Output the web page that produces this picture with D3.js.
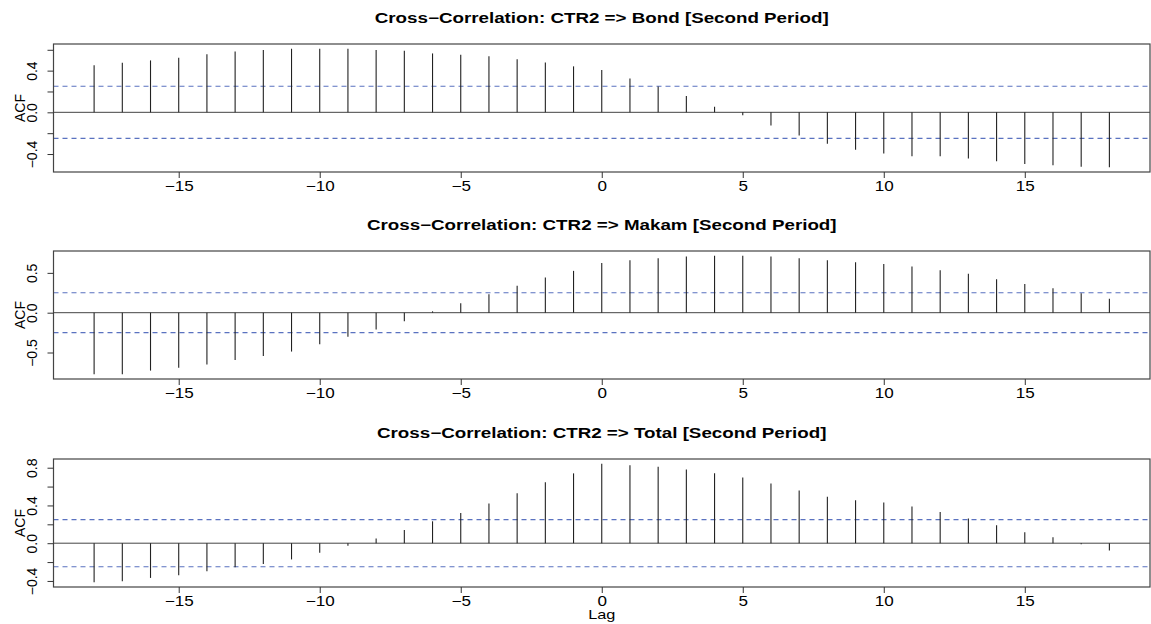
<html>
<head>
<meta charset="UTF-8">
<title>Cross-Correlation CTR2</title>
<script src="https://d3js.org/d3.v7.min.js"></script>
<style>
body { margin: 0; background: #fff; }
text { font-family: "Liberation Sans", Arial, sans-serif; fill: #000; }
</style>
</head>
<body>
<svg id="chart" width="1151" height="624"></svg>
<script>
// lags of the ccf output
var lags = [-18,-17,-16,-15,-14,-13,-12,-11,-10,-9,-8,-7,-6,-5,-4,-3,-2,-1,0,
            1,2,3,4,5,6,7,8,9,10,11,12,13,14,15,16,17,18];

// cross-correlation values
var bondAcf = [0.451,0.476,0.498,0.524,0.556,0.584,0.597,0.610,0.610,0.610,0.597,0.590,0.565,
               0.552,0.537,0.508,0.479,0.441,0.406,0.324,0.248,0.156,0.054,-0.029,-0.127,-0.222,
               -0.302,-0.359,-0.394,-0.422,-0.422,-0.444,-0.470,-0.495,-0.508,-0.521,-0.527];
var makamAcf = [-0.773,-0.773,-0.727,-0.690,-0.649,-0.595,-0.545,-0.488,-0.397,-0.302,-0.211,-0.107,0.017,
                0.120,0.231,0.339,0.442,0.525,0.624,0.657,0.682,0.707,0.715,0.715,0.707,0.682,
                0.657,0.632,0.612,0.579,0.533,0.488,0.421,0.360,0.306,0.244,0.174];
var totalAcf = [-0.414,-0.404,-0.368,-0.340,-0.298,-0.256,-0.221,-0.172,-0.102,-0.028,0.049,0.140,0.232,
                0.319,0.421,0.530,0.646,0.740,0.842,0.825,0.811,0.782,0.740,0.695,0.632,0.558,
                0.491,0.456,0.432,0.389,0.330,0.263,0.189,0.116,0.063,-0.011,-0.077];

// approx. 95% bound, 2/sqrt(n)
var ciBound = 0.25;

var titles = ["Cross\u2212Correlation: CTR2 => Bond [Second Period]",
              "Cross\u2212Correlation: CTR2 => Makam [Second Period]",
              "Cross\u2212Correlation: CTR2 => Total [Second Period]"];

var xTicks = [-15,-10,-5,0,5,10,15];
var yTicksBond  = [-0.4,-0.2,0,0.2,0.4,0.6];
var yLabelsBond = [-0.4,0,0.4];
var yTicksMakam  = [-0.5,0,0.5];
var yLabelsMakam = [-0.5,0,0.5];
var yTicksTotal  = [-0.4,-0.2,0,0.2,0.4,0.6,0.8];
var yLabelsTotal = [-0.4,0,0.4,0.8];

var series = [bondAcf, makamAcf, totalAcf];
var yTicks = [yTicksBond, yTicksMakam, yTicksTotal];
var yLabels = [yLabelsBond, yLabelsMakam, yLabelsTotal];

var svg = d3.select("#chart");
var left = 53.5, right = 1150;
var panelTops = [44, 251, 459];
var panelH = 128;

// R style: extend the range by 4% on each side
function padded(lo, hi) {
  var p = (hi - lo) * 0.04;
  return [lo - p, hi + p];
}

// the original picture was stretched sideways, so widen the glyphs
function widen(sel, k) {
  sel.each(function() {
    var w = this.getComputedTextLength();
    if (w > 0) d3.select(this).attr("textLength", w * k).attr("lengthAdjust", "spacingAndGlyphs");
  });
}

var xScale = d3.scaleLinear()
  .domain(padded(d3.min(lags), d3.max(lags)))
  .range([left, right]);

function fmt(v) {
  if (v == 0) return "0.0";
  return (v < 0 ? "\u2212" : "") + Math.abs(v);
}

series.forEach(function(vals, i) {
  var top = panelTops[i];
  var bottom = top + panelH;
  var lo = d3.min(vals.concat([-ciBound])), hi = d3.max(vals.concat([ciBound]));
  var yScale = d3.scaleLinear().domain(padded(lo, hi)).range([bottom, top]);

  var g = svg.append("g");

  // title
  g.append("text")
    .attr("x", (left + right) / 2)
    .attr("y", top - 21)
    .attr("text-anchor", "middle")
    .style("font-size", "14px")
    .style("font-weight", "bold")
    .text(titles[i])
    .call(widen, 1.34);

  // zero line
  g.append("line")
    .attr("x1", left).attr("x2", right)
    .attr("y1", yScale(0)).attr("y2", yScale(0))
    .style("stroke", "#444").style("stroke-width", 1);

  // confidence bounds
  [ciBound, -ciBound].forEach(function(c) {
    g.append("line")
      .attr("x1", left).attr("x2", right)
      .attr("y1", yScale(c)).attr("y2", yScale(c))
      .style("stroke", "#5a72c0")
      .style("stroke-width", 1.1)
      .style("stroke-dasharray", "5,4");
  });

  // spikes
  g.selectAll("line.spike").data(lags)
    .enter().append("line")
    .attr("class", "spike")
    .attr("x1", function(d) { return xScale(d); })
    .attr("x2", function(d) { return xScale(d); })
    .attr("y1", yScale(0))
    .attr("y2", function(d, j) { return yScale(vals[j]); })
    .style("stroke", "#222")
    .style("stroke-width", 1.1);

  // box
  g.append("rect")
    .attr("x", left).attr("y", top)
    .attr("width", right - left).attr("height", panelH)
    .style("fill", "none").style("stroke", "#444").style("stroke-width", 1.2);

  // x axis
  var xAxis = d3.axisBottom(xScale).tickValues(xTicks).tickSize(6).tickPadding(3)
    .tickFormat(function(d) { return d < 0 ? "\u2212" + Math.abs(d) : d; });
  var xg = g.append("g").attr("transform", "translate(0," + bottom + ")").call(xAxis);
  xg.select(".domain").remove();
  xg.selectAll("line").style("stroke", "#333");
  xg.selectAll("text")
    .attr("y", 18.8).attr("dy", null)
    .style("font-size", "14px").style("font-family", '"Liberation Sans", Arial, sans-serif')
    .call(widen, 1.22);

  // y axis
  var labs = yLabels[i];
  var yAxis = d3.axisLeft(yScale).tickValues(yTicks[i]).tickSize(6)
    .tickFormat(function(d) { return labs.indexOf(d) >= 0 ? fmt(d) : ""; });
  var yg = g.append("g").attr("transform", "translate(" + left + ",0)").call(yAxis);
  yg.select(".domain").remove();
  yg.selectAll("line").style("stroke", "#333");
  yg.selectAll("text")
    .attr("transform", "rotate(-90)")
    .attr("x", 0).attr("y", -16.5).attr("dy", null)
    .attr("text-anchor", "middle")
    .style("font-size", "14px").style("font-family", '"Liberation Sans", Arial, sans-serif');

  // y label
  g.append("text")
    .attr("transform", "translate(25," + (top + panelH / 2) + ") rotate(-90)")
    .attr("text-anchor", "middle")
    .style("font-size", "14px")
    .text("ACF");
});

// x label on the last panel
svg.append("text")
  .attr("x", (left + right) / 2)
  .attr("y", 618.5)
  .attr("text-anchor", "middle")
  .style("font-size", "13px")
  .text("Lag")
  .call(widen, 1.25);
</script>
</body>
</html>
